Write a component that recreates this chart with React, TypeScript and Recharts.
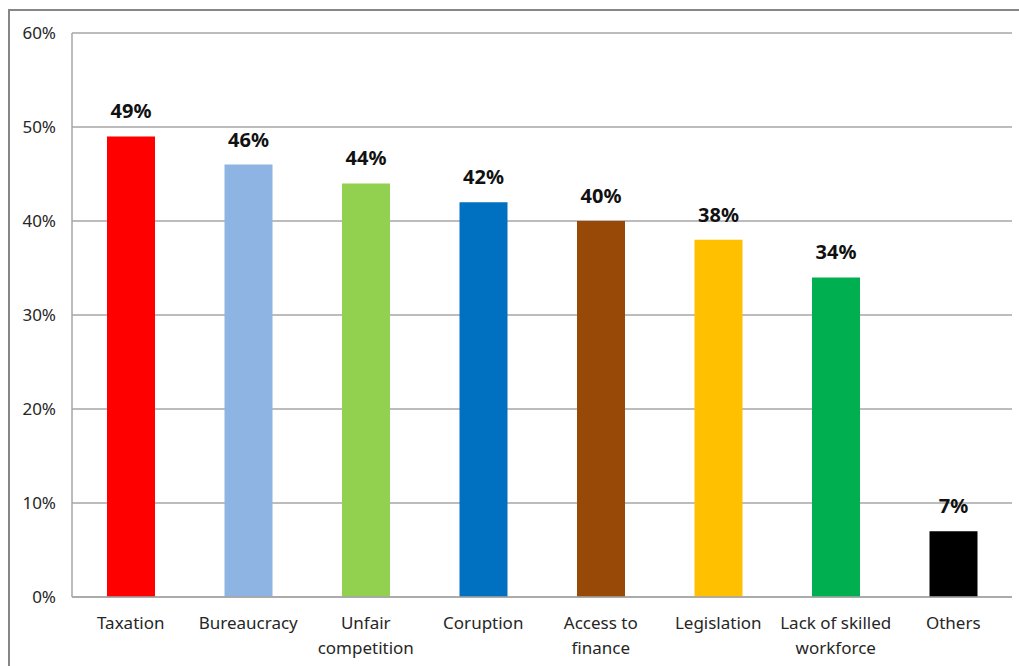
import React from 'react';
import { BarChart, Bar, XAxis, YAxis, CartesianGrid, LabelList, Cell } from 'recharts';

// categories (\n marks where the label wraps)
const categories = [
  'Taxation',
  'Bureaucracy',
  'Unfair\ncompetition',
  'Coruption',
  'Access to\nfinance',
  'Legislation',
  'Lack of skilled\nworkforce',
  'Others',
];
const shares = [49, 46, 44, 42, 40, 38, 34, 7];
const barColors = ['#FF0000', '#8EB4E3', '#92D050', '#0070C0', '#984807', '#FFC000', '#00B050', '#000000'];
const yTicks = [0, 10, 20, 30, 40, 50, 60];

const FONT = '"Noto Sans", "Open Sans", sans-serif';

const data = categories.map((name, i) => ({ name, value: shares[i] }));

const CategoryTick = ({ x, y, payload }: any) => {
  const lines = String(payload.value).split('\n');
  return (
    <text x={x} y={y} textAnchor="middle" fill="#262626" fontSize={17} fontFamily={FONT}>
      {lines.map((line: string, i: number) => (
        <tspan key={i} x={x} dy={i === 0 ? 24 : 25}>
          {line}
        </tspan>
      ))}
    </text>
  );
};

const App: React.FC = () => {
  return (
    <div style={{ position: 'absolute', left: 0, top: 0, width: 1019, height: 666, background: '#fff' }}>
      {/* outer chart frame, only top and left edges visible */}
      <div
        style={{
          position: 'absolute',
          left: 8,
          top: 9,
          width: 1019,
          height: 666,
          borderTop: '2px solid #868686',
          borderLeft: '2px solid #868686',
        }}
      />
      <div style={{ position: 'absolute', left: 0, top: 0 }}>
        <BarChart
          width={1019}
          height={666}
          data={data}
          margin={{ top: 33, right: 7, bottom: 0, left: 0 }}
          barCategoryGap={0}
        >
          <CartesianGrid vertical={false} stroke="#A6A6A6" strokeWidth={1.5} />
          <XAxis
            dataKey="name"
            interval={0}
            tickLine={false}
            axisLine={{ stroke: '#A6A6A6', strokeWidth: 1.5 }}
            tick={<CategoryTick />}
            height={69}
          />
          <YAxis
            width={72}
            domain={[0, 60]}
            ticks={yTicks}
            tickFormatter={(v: number) => `${v}%`}
            tickLine={false}
            tickSize={0}
            tickMargin={16}
            axisLine={{ stroke: '#A6A6A6', strokeWidth: 1.5 }}
            tick={{ fontSize: 17, fill: '#262626', fontFamily: FONT }}
          />
          <Bar dataKey="value" barSize={48} isAnimationActive={false}>
            {data.map((d, i) => (
              <Cell key={d.name} fill={barColors[i]} />
            ))}
            <LabelList
              dataKey="value"
              position="top"
              offset={18}
              formatter={(v: any) => `${v}%`}
              style={{ fontSize: 20, fontWeight: 700, fill: '#111', fontFamily: FONT }}
            />
          </Bar>
        </BarChart>
      </div>
    </div>
  );
};

export default App;
